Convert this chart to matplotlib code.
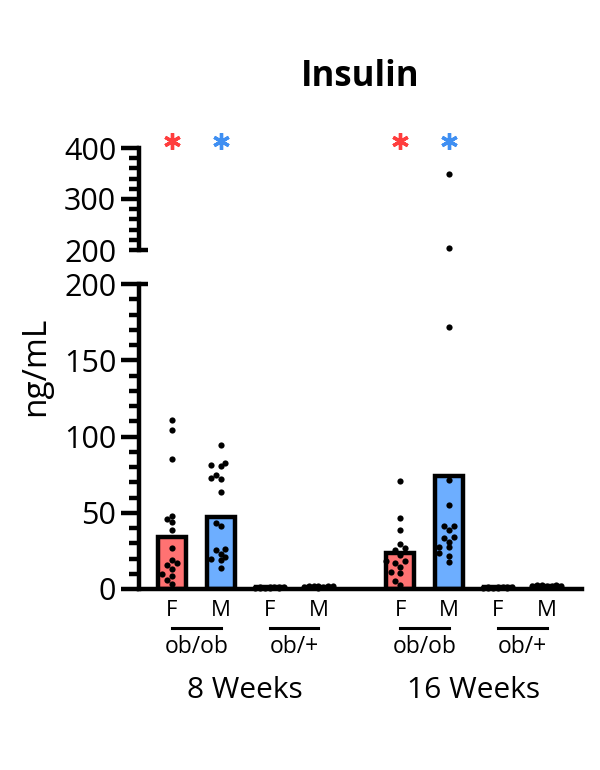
import numpy as np
import matplotlib
matplotlib.use("Agg")
import matplotlib.pyplot as plt
import matplotlib.transforms as mtransforms
from matplotlib.ticker import FixedLocator, FixedFormatter

plt.rcParams['font.family'] = ['Open Sans', 'DejaVu Sans']

# ---------------- data ----------------
title = "Insulin"
ylabel = "ng/mL"
timepoints = ["8 Weeks", "16 Weeks"]
genotypes = ["ob/ob", "ob/+"]
sexes = ["F", "M"]

# bar heights (group means), order: 8w ob/ob F, M, 8w ob/+ F, M, 16w ob/ob F, M, 16w ob/+ F, M
bar_means = [34, 47, 1.0, 1.5, 23.6, 74, 1.0, 1.8]

pts_8w_obob_F = [111, 104, 85, 48, 46, 44, 39, 27, 19, 17, 15.5, 13, 10, 8.5, 6, 3]
pts_8w_obob_M = [94.6, 82.6, 81.3, 80.4, 75, 73, 72.3, 63.4, 43.5, 41, 26, 25.4, 23, 21, 19.7, 19, 14]
pts_8w_obp_F = [1.5, 1.2, 1.0, 0.9, 0.8, 0.7, 0.6, 0.5, 1.3, 1.1]
pts_8w_obp_M = [2.2, 2.0, 1.8, 1.6, 1.5, 1.4, 1.2, 1.0, 0.8, 1.9, 1.7]
pts_16w_obob_F = [70.8, 46.8, 38.7, 29.3, 26.7, 25.6, 22.3, 18.4, 18.4, 16.8, 14.6, 11.4, 10.7, 5.2, 2.6]
pts_16w_obob_M = [350, 203, 172, 71.5, 55, 41.3, 41.3, 38.7, 34.3, 33.2, 31, 27.7, 27.3, 23.4, 21.8, 17.9]
pts_16w_obp_F = [1.6, 1.3, 1.1, 0.9, 0.8, 0.6, 0.5, 0.4, 1.2, 1.0]
pts_16w_obp_M = [2.6, 2.4, 2.2, 2.0, 1.9, 1.7, 1.5, 1.3, 2.3, 2.1, 1.8]

all_points = [pts_8w_obob_F, pts_8w_obob_M, pts_8w_obp_F, pts_8w_obp_M,
              pts_16w_obob_F, pts_16w_obob_M, pts_16w_obp_F, pts_16w_obp_M]
significant = [True, True, False, False, True, True, False, False]

lower_ticks = [0, 50, 100, 150, 200]
upper_ticks = [300, 400]
upper_minor_label = 200

# ---------------- style ----------------
red = "#FF7272"
blue = "#6DAEFF"
star_red = "#FF3D3D"
star_blue = "#3F8FF2"
bar_colors = [red, blue, red, blue, red, blue, red, blue]
star_colors = [star_red, star_blue] * 4
positions = np.array([0, 1, 2, 3, 4.67, 5.67, 6.67, 7.67])
bar_width = 0.57
LW = 3.2

W, H = 600, 770
fig = plt.figure(figsize=(W / 100, H / 100), dpi=100)

left = 138.5 / W
right = 582 / W
ax_lo = fig.add_axes([left, 1 - 589 / H, right - left, (589 - 284) / H])
ax_hi = fig.add_axes([left, 1 - 250 / H, right - left, (250 - 148) / H])

xlim = (-0.68, 8.39)
for ax in (ax_lo, ax_hi):
    ax.set_xlim(*xlim)
    ax.spines['top'].set_visible(False)
    ax.spines['right'].set_visible(False)
    ax.spines['left'].set_linewidth(LW)
    ax.spines['bottom'].set_linewidth(LW)
    ax.set_facecolor('none')
    ax.set_xticks([])

ax_hi.spines['bottom'].set_visible(False)
ax_lo.set_ylim(0, 200)
ax_hi.set_ylim(200, 400)

# bars
ax_lo.bar(positions, bar_means, width=bar_width, color=bar_colors,
          edgecolor='black', linewidth=LW, zorder=2)

px_per_x = (right - left) * W / (xlim[1] - xlim[0])
lo_ppu = (589 - 284) / 200.0
hi_ppu = (250 - 148) / 200.0


def ypix(v):
    if v <= 200:
        return v * lo_ppu
    return (589 - 250) + (v - 200) * hi_ppu


# swarm layout for dots (limited to within the bar width)
def swarm_offsets(vals):
    order = np.argsort(vals)
    placed = []
    offs = np.zeros(len(vals))
    step = 4.8
    diam = 6.0
    cands = [0.0]
    for k in range(1, 4):
        cands += [-k * step, k * step]
    for i in order:
        yp = ypix(vals[i])
        best, best_d = None, -1
        for c in cands:
            d = min([np.hypot(px - c, py - yp) for (px, py) in placed] + [1e9])
            if d >= diam * 0.9:
                best = c
                break
            if d > best_d:
                best_d, best = d, c
        offs[i] = best
        placed.append((best, yp))
    return offs / px_per_x


for xpos, vals in zip(positions, all_points):
    vals = np.array(vals, dtype=float)
    offs = swarm_offsets(vals)
    lo_mask = vals <= 200
    hi_mask = vals > 200
    ax_lo.scatter(xpos + offs[lo_mask], vals[lo_mask], s=20, color='black',
                  zorder=3, clip_on=False, linewidths=0)
    if hi_mask.any():
        ax_hi.scatter(xpos + offs[hi_mask], vals[hi_mask], s=20, color='black',
                      zorder=3, clip_on=False, linewidths=0)

# y ticks
tick_fs = 22
ax_lo.yaxis.set_major_locator(FixedLocator(lower_ticks))
ax_lo.yaxis.set_minor_locator(FixedLocator(np.arange(0, 201, 10)))
ax_lo.tick_params(axis='y', which='major', length=13, width=LW, labelsize=tick_fs, pad=3)
ax_lo.tick_params(axis='y', which='minor', length=7.5, width=LW)

ax_hi.yaxis.set_major_locator(FixedLocator(upper_ticks))
ax_hi.yaxis.set_minor_locator(FixedLocator(np.arange(200, 400, 20)))
minor_labels = [str(upper_minor_label) if v == upper_minor_label else ""
                for v in np.arange(200, 400, 20)]
ax_hi.yaxis.set_minor_formatter(FixedFormatter(minor_labels))
ax_hi.tick_params(axis='y', which='major', length=13, width=LW, labelsize=tick_fs, pad=3)
ax_hi.tick_params(axis='y', which='minor', length=7.5, width=LW, labelsize=tick_fs,
                  pad=3 + 13 - 7.5)

ax_lo.tick_params(axis='x', which='both', length=0)
ax_hi.tick_params(axis='x', which='both', length=0)

# axis break caps
cap = 9 / ((right - left) * W)
ax_lo.plot([0, cap], [1, 1], transform=ax_lo.transAxes, color='black', lw=LW,
           clip_on=False, solid_capstyle='butt')
ax_hi.plot([0, cap], [0, 0], transform=ax_hi.transAxes, color='black', lw=LW,
           clip_on=False, solid_capstyle='butt')

# significance stars
star_tr = mtransforms.blended_transform_factory(ax_hi.transData, ax_hi.transAxes)
for xpos, sig, col in zip(positions, significant, star_colors):
    if sig:
        ax_hi.plot([xpos], [1.07], marker=(6, 2, 0), markersize=12, mew=2.4,
                   color=col, transform=star_tr, clip_on=False)

# category labels below x axis
bt = mtransforms.blended_transform_factory(ax_lo.transData, fig.transFigure)


def fy(py):
    return 1 - py / H


for i, xpos in enumerate(positions):
    fig.text(xpos, fy(611), sexes[i % 2], transform=bt, ha='center', va='center',
             fontsize=16)
for g in range(4):
    x0, x1 = positions[2 * g], positions[2 * g + 1]
    fig.add_artist(plt.Line2D([x0, x1], [fy(628), fy(628)], transform=bt,
                              color='black', lw=2.2))
    fig.text((x0 + x1) / 2, fy(647), genotypes[g % 2], transform=bt,
             ha='center', va='center', fontsize=16.5)
for t in range(2):
    x0, x1 = positions[4 * t], positions[4 * t + 3]
    fig.text((x0 + x1) / 2, fy(690), timepoints[t], transform=bt,
             ha='center', va='center', fontsize=21.5)

# title and y label
fig.text((left + right) / 2, fy(77), title, ha='center', va='center',
         fontsize=25, fontweight='bold')
fig.text(36 / W, fy(366), ylabel, ha='center', va='center', rotation=90,
         fontsize=24)

fig.savefig("out.png", dpi=100)
